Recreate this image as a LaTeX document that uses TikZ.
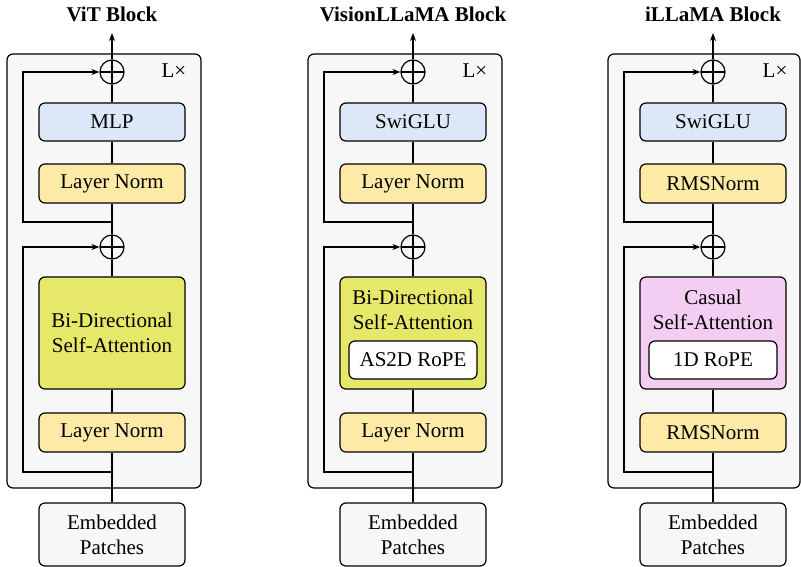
\documentclass[tikz,border=0pt]{standalone}
\usepackage{fontspec}
\setmainfont{Liberation Serif}
\usetikzlibrary{calc,arrows.meta,positioning}

\definecolor{blockgray}{HTML}{F7F7F7}
\definecolor{mlpblue}{HTML}{DCE8F8}
\definecolor{normyellow}{HTML}{FDEAA6}
\definecolor{attnyellow}{HTML}{E6E86A}
\definecolor{attnpink}{HTML}{F3CDF2}

\begin{document}
\begin{tikzpicture}[
  x=1pt, y=-1pt,
  font=\fontsize{21}{25}\selectfont,
  line width=1.2pt,
  outer/.style={draw, rounded corners=6pt, fill=blockgray},
  box/.style={rectangle, draw, rounded corners=6pt, minimum width=146pt, minimum height=38pt, text centered, align=center, inner sep=0pt},
  rope/.style={rectangle, draw, rounded corners=6pt, fill=white, minimum width=128pt, minimum height=38pt, inner sep=0pt},
  plus/.style={circle, draw, minimum size=24pt, inner sep=0pt, fill=blockgray,
    path picture={\draw (path picture bounding box.north) -- (path picture bounding box.south)
      (path picture bounding box.west) -- (path picture bounding box.east);}},
  title/.style={font=\fontsize{21}{25}\selectfont\bfseries, anchor=base},
  arrow/.style={-{Stealth[length=8pt,width=6pt]}}
]
  \useasboundingbox (0,0) rectangle (801,567);

  % ViT
  \node[title] (vit-title) at (112,22) {ViT Block};
  \draw[outer] (7,54) rectangle (201,488);
  \node (vit-rep) at (174,71) {L×};
  \node[plus] (vit-plus1) at (112,72) {};
  \node[box, fill=mlpblue] (vit-mlp) at (112,122) {MLP};
  \node[box, fill=normyellow, minimum height=39pt] (vit-ln1) at (112,183.5) {Layer Norm};
  \node[plus] (vit-plus2) at (112,247) {};
  \node[box, fill=attnyellow, minimum height=112pt] (vit-attn) at (112,333) {Bi-Directional\\Self-Attention};
  \node[box, fill=normyellow, minimum height=39pt] (vit-ln2) at (112,432.5) {Layer Norm};
  \node[box, fill=blockgray, minimum height=63pt] (vit-emb) at (112,534.5) {Embedded\\Patches};
  \coordinate (vit-out) at (112,33);
  \coordinate (vit-j1) at (112,472);
  \coordinate (vit-j2) at (112,222);

  \draw (vit-emb) -- (vit-ln2);
  \draw (vit-ln2) -- (vit-attn);
  \draw (vit-attn) -- (vit-plus2);
  \draw (vit-plus2) -- (vit-ln1);
  \draw (vit-ln1) -- (vit-mlp);
  \draw (vit-mlp) -- (vit-plus1);
  \draw[arrow] (vit-plus1) -- (vit-out);
  \draw[arrow] (vit-j1) -- ([xshift=-89pt]vit-j1) |- (vit-plus2);
  \draw[arrow] (vit-j2) -- ([xshift=-89pt]vit-j2) |- (vit-plus1);

  % VisionLLaMA
  \node[title] (vl-title) at (413,22) {VisionLLaMA Block};
  \draw[outer] (308,54) rectangle (502,488);
  \node (vl-rep) at (475,71) {L×};
  \node[plus] (vl-plus1) at (413,72) {};
  \node[box, fill=mlpblue] (vl-mlp) at (413,122) {SwiGLU};
  \node[box, fill=normyellow, minimum height=39pt] (vl-ln1) at (413,183.5) {Layer Norm};
  \node[plus] (vl-plus2) at (413,247) {};
  \node[box, fill=attnyellow, minimum height=112pt] (vl-attn) at (413,333) {};
  \node[align=center, inner sep=0pt] (vl-text) at (413,310) {Bi-Directional\\Self-Attention};
  \node[rope] (vl-rope) at (413,360) {AS2D RoPE};
  \node[box, fill=normyellow, minimum height=39pt] (vl-ln2) at (413,432.5) {Layer Norm};
  \node[box, fill=blockgray, minimum height=63pt] (vl-emb) at (413,534.5) {Embedded\\Patches};
  \coordinate (vl-out) at (413,33);
  \coordinate (vl-j1) at (413,472);
  \coordinate (vl-j2) at (413,222);

  \draw (vl-emb) -- (vl-ln2);
  \draw (vl-ln2) -- (vl-attn);
  \draw (vl-attn) -- (vl-plus2);
  \draw (vl-plus2) -- (vl-ln1);
  \draw (vl-ln1) -- (vl-mlp);
  \draw (vl-mlp) -- (vl-plus1);
  \draw[arrow] (vl-plus1) -- (vl-out);
  \draw[arrow] (vl-j1) -- ([xshift=-89pt]vl-j1) |- (vl-plus2);
  \draw[arrow] (vl-j2) -- ([xshift=-89pt]vl-j2) |- (vl-plus1);

  % iLLaMA
  \node[title] (il-title) at (713,22) {iLLaMA Block};
  \draw[outer] (608,54) rectangle (800,488);
  \node (il-rep) at (775,71) {L×};
  \node[plus] (il-plus1) at (713,72) {};
  \node[box, fill=mlpblue] (il-mlp) at (713,122) {SwiGLU};
  \node[box, fill=normyellow, minimum height=39pt] (il-ln1) at (713,183.5) {RMSNorm};
  \node[plus] (il-plus2) at (713,247) {};
  \node[box, fill=attnpink, minimum height=112pt] (il-attn) at (713,333) {};
  \node[align=center, inner sep=0pt] (il-text) at (713,310) {Casual\\Self-Attention};
  \node[rope] (il-rope) at (713,360) {1D RoPE};
  \node[box, fill=normyellow, minimum height=39pt] (il-ln2) at (713,432.5) {RMSNorm};
  \node[box, fill=blockgray, minimum height=63pt] (il-emb) at (713,534.5) {Embedded\\Patches};
  \coordinate (il-out) at (713,33);
  \coordinate (il-j1) at (713,472);
  \coordinate (il-j2) at (713,222);

  \draw (il-emb) -- (il-ln2);
  \draw (il-ln2) -- (il-attn);
  \draw (il-attn) -- (il-plus2);
  \draw (il-plus2) -- (il-ln1);
  \draw (il-ln1) -- (il-mlp);
  \draw (il-mlp) -- (il-plus1);
  \draw[arrow] (il-plus1) -- (il-out);
  \draw[arrow] (il-j1) -- ([xshift=-89pt]il-j1) |- (il-plus2);
  \draw[arrow] (il-j2) -- ([xshift=-89pt]il-j2) |- (il-plus1);
\end{tikzpicture}
\end{document}
